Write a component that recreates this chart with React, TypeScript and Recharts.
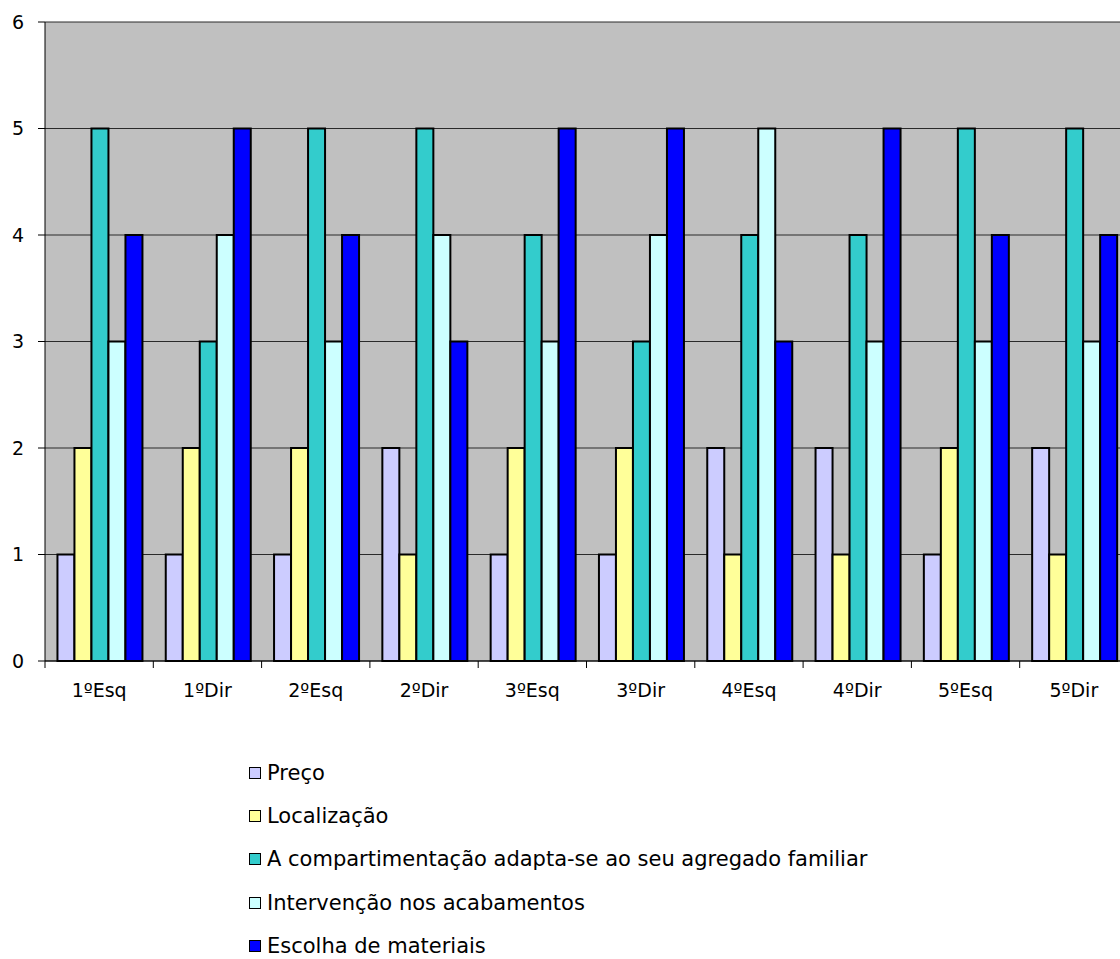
import { BarChart, Bar, XAxis, YAxis, CartesianGrid, Legend } from "recharts";

const floors = ["1ºEsq", "1ºDir", "2ºEsq", "2ºDir", "3ºEsq", "3ºDir", "4ºEsq", "4ºDir", "5ºEsq", "5ºDir"];
const preco = [1, 1, 1, 2, 1, 1, 2, 2, 1, 2];
const localizacao = [2, 2, 2, 1, 2, 2, 1, 1, 2, 1];
const compartimentacao = [5, 3, 5, 5, 4, 3, 4, 4, 5, 5];
const acabamentos = [3, 4, 3, 4, 3, 4, 5, 3, 3, 3];
const materiais = [4, 5, 4, 3, 5, 5, 3, 5, 4, 4];
const yTicks = [0, 1, 2, 3, 4, 5, 6];

const series = [
  { key: "preco", name: "Preço", color: "#CCCCFF" },
  { key: "localizacao", name: "Localização", color: "#FFFF99" },
  { key: "compartimentacao", name: "A compartimentação adapta-se ao seu agregado familiar", color: "#33CCCC" },
  { key: "acabamentos", name: "Intervenção nos acabamentos", color: "#CCFFFF" },
  { key: "materiais", name: "Escolha de materiais", color: "#0000FF" },
];

const data = floors.map((f, i) => ({
  floor: f,
  preco: preco[i],
  localizacao: localizacao[i],
  compartimentacao: compartimentacao[i],
  acabamentos: acabamentos[i],
  materiais: materiais[i],
}));

const FONT = "'DejaVu Sans', Verdana, sans-serif";

function FloorTick(props: any) {
  const { x, y, payload } = props;
  const half = payload.offset || 0;
  return (
    <g>
      <line x1={x - half} y1={y} x2={x - half} y2={y + 7} stroke="#000" />
      <text x={x} y={y + 36} textAnchor="middle" fontSize={19} fontFamily={FONT} fill="#000">
        {payload.value}
      </text>
    </g>
  );
}

function LegendList() {
  return (
    <div style={{ fontFamily: FONT, fontSize: 21, color: "#000" }}>
      {series.map((s) => (
        <div key={s.key} style={{ display: "flex", alignItems: "center", height: 43.3, whiteSpace: "nowrap" }}>
          <span
            style={{
              display: "inline-block",
              width: 10,
              height: 10,
              background: s.color,
              border: "1.5px solid #000",
              marginRight: 6,
            }}
          />
          {s.name}
        </div>
      ))}
    </div>
  );
}

export default function App() {
  return (
    <div style={{ position: "absolute", left: 0, top: 0, width: 1120, height: 959, overflow: "hidden", background: "#fff" }}>
      <BarChart
        width={1140}
        height={959}
        data={data}
        margin={{ top: 22, right: 12, left: 0, bottom: 258 }}
        barCategoryGap="11.5%"
        barGap={0}
      >
        <CartesianGrid vertical={false} stroke="#2a2a2a" fill="#C0C0C0" />
        <XAxis
          dataKey="floor"
          height={40}
          tickSize={0}
          tickMargin={0}
          tickLine={false}
          axisLine={{ stroke: "#000" }}
          tick={<FloorTick />}
          interval={0}
        />
        <YAxis
          width={45}
          domain={[0, 6]}
          ticks={yTicks}
          tickSize={7}
          tickMargin={14}
          axisLine={{ stroke: "#000" }}
          tickLine={{ stroke: "#000" }}
          tick={{ fontSize: 19, fontFamily: FONT, fill: "#000" }}
        />
        <Legend
          layout="vertical"
          align="center"
          verticalAlign="middle"
          content={<LegendList />}
          wrapperStyle={{ top: 751, left: 249, width: "auto" }}
        />
        {series.map((s) => (
          <Bar
            key={s.key}
            dataKey={s.key}
            name={s.name}
            fill={s.color}
            stroke="#000"
            strokeWidth={2}
            isAnimationActive={false}
          />
        ))}
      </BarChart>
    </div>
  );
}
